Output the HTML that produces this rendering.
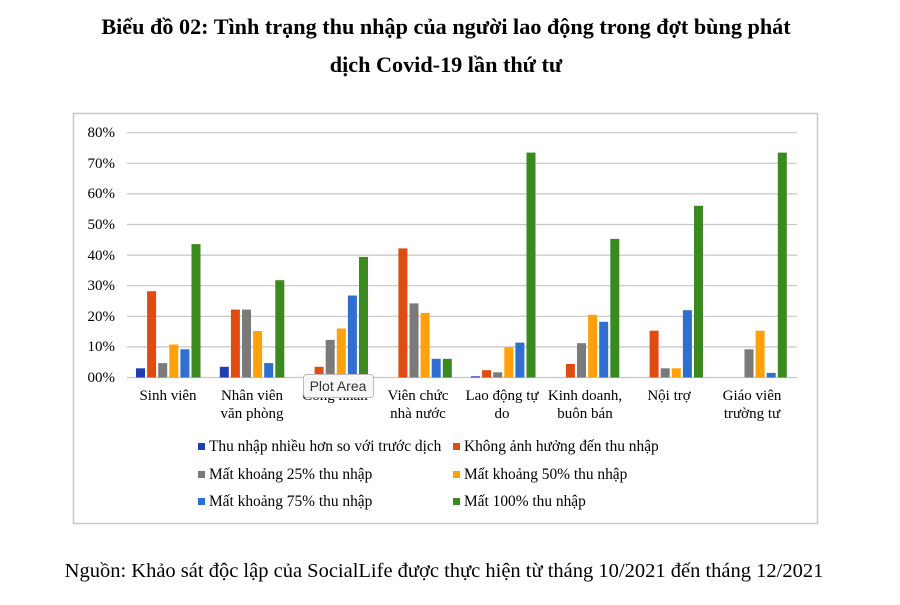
<!DOCTYPE html>
<html><head><meta charset="utf-8"><style>
body{margin:0;background:#fff;width:900px;height:600px;overflow:hidden;font-family:"Liberation Serif",serif}
</style></head><body>
<svg width="900" height="600" xmlns="http://www.w3.org/2000/svg" font-family="Liberation Serif, serif">
<text x="446" y="34" text-anchor="middle" font-size="22.2" font-weight="bold">Biểu đồ 02: Tình trạng thu nhập của người lao động trong đợt bùng phát</text>
<text x="446" y="72" text-anchor="middle" font-size="22.2" font-weight="bold">dịch Covid-19 lần thứ tư</text>
<rect x="73.5" y="113.5" width="744" height="410" fill="#fff" stroke="#c8c8c8" stroke-width="1.5"/>
<g stroke="#c6c6c6" stroke-width="1.2">
<line x1="127" x2="797" y1="132.7" y2="132.7"/><line x1="127" x2="797" y1="163.3" y2="163.3"/>
<line x1="127" x2="797" y1="193.9" y2="193.9"/><line x1="127" x2="797" y1="224.5" y2="224.5"/>
<line x1="127" x2="797" y1="255.1" y2="255.1"/><line x1="127" x2="797" y1="285.7" y2="285.7"/>
<line x1="127" x2="797" y1="316.3" y2="316.3"/><line x1="127" x2="797" y1="346.9" y2="346.9"/>
<line x1="127" x2="797" y1="377.5" y2="377.5"/>
</g>
<g font-size="15" text-anchor="end">
<text x="115" y="137">80%</text><text x="115" y="168">70%</text><text x="115" y="198">60%</text>
<text x="115" y="229">50%</text><text x="115" y="260">40%</text><text x="115" y="290">30%</text>
<text x="115" y="321">20%</text><text x="115" y="351">10%</text><text x="115" y="382">00%</text>
</g>
<g>
<rect x="136" y="368.3" width="9" height="9.2" fill="#1f3fb0"/>
<rect x="147.1" y="291.2" width="9" height="86.3" fill="#e04b12"/>
<rect x="158.2" y="363.1" width="9" height="14.4" fill="#7a7a7a"/>
<rect x="169.3" y="344.5" width="9" height="33" fill="#ffa10a"/>
<rect x="180.4" y="349.3" width="9" height="28.2" fill="#2f6fd0"/>
<rect x="191.5" y="244.1" width="9" height="133.4" fill="#3a8a1f"/>

<rect x="219.8" y="366.8" width="9" height="10.7" fill="#1f3fb0"/>
<rect x="230.9" y="309.6" width="9" height="67.9" fill="#e04b12"/>
<rect x="242" y="309.6" width="9" height="67.9" fill="#7a7a7a"/>
<rect x="253.1" y="331" width="9" height="46.5" fill="#ffa10a"/>
<rect x="264.2" y="363.1" width="9" height="14.4" fill="#2f6fd0"/>
<rect x="275.3" y="280.2" width="9" height="97.3" fill="#3a8a1f"/>

<rect x="314.6" y="366.8" width="9" height="10.7" fill="#e04b12"/>
<rect x="325.7" y="339.9" width="9" height="37.6" fill="#7a7a7a"/>
<rect x="336.8" y="328.5" width="9" height="49" fill="#ffa10a"/>
<rect x="347.9" y="295.5" width="9" height="82" fill="#2f6fd0"/>
<rect x="359" y="256.9" width="9" height="120.6" fill="#3a8a1f"/>

<rect x="398.4" y="248.4" width="9" height="129.1" fill="#e04b12"/>
<rect x="409.5" y="303.4" width="9" height="74.1" fill="#7a7a7a"/>
<rect x="420.6" y="312.9" width="9" height="64.6" fill="#ffa10a"/>
<rect x="431.7" y="358.8" width="9" height="18.7" fill="#2f6fd0"/>
<rect x="442.8" y="358.8" width="9" height="18.7" fill="#3a8a1f"/>

<rect x="471" y="376.3" width="9" height="1.2" fill="#1f3fb0"/>
<rect x="482.1" y="370.2" width="9" height="7.3" fill="#e04b12"/>
<rect x="493.2" y="372.3" width="9" height="5.2" fill="#7a7a7a"/>
<rect x="504.3" y="347.5" width="9" height="30" fill="#ffa10a"/>
<rect x="515.4" y="342.6" width="9" height="34.9" fill="#2f6fd0"/>
<rect x="526.5" y="152.6" width="9" height="224.9" fill="#3a8a1f"/>

<rect x="565.9" y="364" width="9" height="13.5" fill="#e04b12"/>
<rect x="577" y="343.2" width="9" height="34.3" fill="#7a7a7a"/>
<rect x="588.1" y="314.8" width="9" height="62.7" fill="#ffa10a"/>
<rect x="599.2" y="321.8" width="9" height="55.7" fill="#2f6fd0"/>
<rect x="610.3" y="238.9" width="9" height="138.6" fill="#3a8a1f"/>

<rect x="649.6" y="330.7" width="9" height="46.8" fill="#e04b12"/>
<rect x="660.7" y="368.3" width="9" height="9.2" fill="#7a7a7a"/>
<rect x="671.8" y="368.3" width="9" height="9.2" fill="#ffa10a"/>
<rect x="682.9" y="310.2" width="9" height="67.3" fill="#2f6fd0"/>
<rect x="694" y="205.8" width="9" height="171.7" fill="#3a8a1f"/>

<rect x="744.5" y="349.3" width="9" height="28.2" fill="#7a7a7a"/>
<rect x="755.6" y="330.7" width="9" height="46.8" fill="#ffa10a"/>
<rect x="766.7" y="372.9" width="9" height="4.6" fill="#2f6fd0"/>
<rect x="777.8" y="152.6" width="9" height="224.9" fill="#3a8a1f"/>
</g>
<g font-size="15" text-anchor="middle">
<text x="168" y="400">Sinh viên</text>
<text x="252" y="400">Nhân viên</text><text x="252" y="418">văn phòng</text>
<text x="335" y="400">Công nhân</text>
<text x="418" y="400">Viên chức</text><text x="418" y="418">nhà nước</text>
<text x="502" y="400">Lao động tự</text><text x="502" y="418">do</text>
<text x="585" y="400">Kinh doanh,</text><text x="585" y="418">buôn bán</text>
<text x="669" y="400">Nội trợ</text>
<text x="752" y="400">Giáo viên</text><text x="752" y="418">trường tư</text>
</g>
<rect x="303.5" y="374.5" width="70" height="23" rx="3" fill="#f7f7f7" stroke="#bbb"/>
<text x="338" y="391" text-anchor="middle" font-size="14" font-family="Liberation Sans, sans-serif" fill="#333">Plot Area</text>
<g font-size="15.4">
<rect x="198" y="443" width="7" height="7" fill="#1f3fb0"/><text x="209" y="451">Thu nhập nhiều hơn so với trước dịch</text>
<rect x="453" y="443" width="7" height="7" fill="#e04b12"/><text x="464" y="451">Không ảnh hưởng đến thu nhập</text>
<rect x="198" y="471" width="7" height="7" fill="#7a7a7a"/><text x="209" y="479">Mất khoảng 25% thu nhập</text>
<rect x="453" y="471" width="7" height="7" fill="#ffa10a"/><text x="464" y="479">Mất khoảng 50% thu nhập</text>
<rect x="198" y="498" width="7" height="7" fill="#2f6fd0"/><text x="209" y="506">Mất khoảng 75% thu nhập</text>
<rect x="453" y="498" width="7" height="7" fill="#3a8a1f"/><text x="464" y="506">Mất 100% thu nhập</text>
</g>
<text x="444" y="577" text-anchor="middle" font-size="20.5">Nguồn: Khảo sát độc lập của SocialLife được thực hiện từ tháng 10/2021 đến tháng 12/2021</text>
</svg>
</body></html>
